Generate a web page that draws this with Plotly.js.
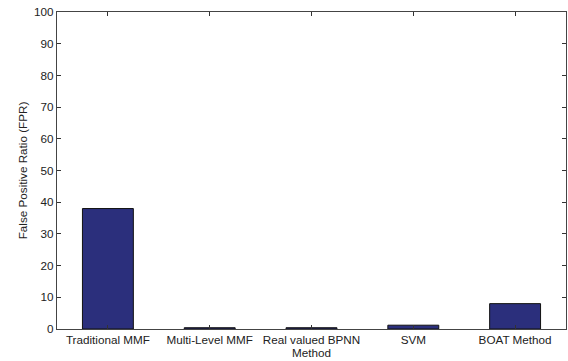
<!DOCTYPE html>
<html>
<head>
<meta charset="utf-8">
<script src="https://cdn.plot.ly/plotly-3.0.1.min.js"></script>
<style>html,body{margin:0;padding:0;background:#fff;}#chart{width:568px;height:361px;}</style>
</head>
<body>
<div id="chart"></div>
<script>
const categories = ["Traditional MMF", "Multi-Level MMF", "Real valued BPNN", "SVM", "BOAT Method"];
const fprValues = [38, 0.4, 0.4, 1.2, 8];
const yTicks = [0, 10, 20, 30, 40, 50, 60, 70, 80, 90, 100];

const xIdx = categories.map((c, i) => i + 1);

const trace = {
  type: "bar",
  x: xIdx,
  y: fprValues,
  width: 0.5,
  marker: { color: "#2b2f7c", line: { color: "#111", width: 1 } },
  hoverinfo: "skip"
};

const layout = {
  width: 568, height: 361,
  margin: { l: 57, r: 2, t: 12, b: 32 },
  paper_bgcolor: "#fff", plot_bgcolor: "#fff",
  showlegend: false,
  font: { family: "Liberation Sans, Arial, sans-serif", size: 11.7, color: "#222" },
  xaxis: {
    range: [0.5, 5.5],
    tickvals: xIdx,
    ticktext: categories,
    ticks: "inside", ticklen: 4, tickcolor: "#333", tickwidth: 1,
    showline: true, linecolor: "#444", linewidth: 1.2, mirror: "ticks",
    showgrid: false, zeroline: false,
    tickfont: { size: 11.7, color: "#222" },
    title: { text: "Method", font: { size: 11.7, color: "#222" }, standoff: 1 }
  },
  yaxis: {
    range: [0, 100],
    tickvals: yTicks,
    ticks: "inside", ticklen: 4, tickcolor: "#333", tickwidth: 1,
    showline: true, linecolor: "#444", linewidth: 1.2, mirror: "ticks",
    showgrid: false, zeroline: false,
    tickfont: { size: 11.7, color: "#222" },
    title: { text: "False Positive Ratio (FPR)", font: { size: 11.7, color: "#222" }, standoff: 3 }
  }
};

Plotly.newPlot("chart", [trace], layout, { displayModeBar: false, staticPlot: true });
</script>
</body>
</html>
